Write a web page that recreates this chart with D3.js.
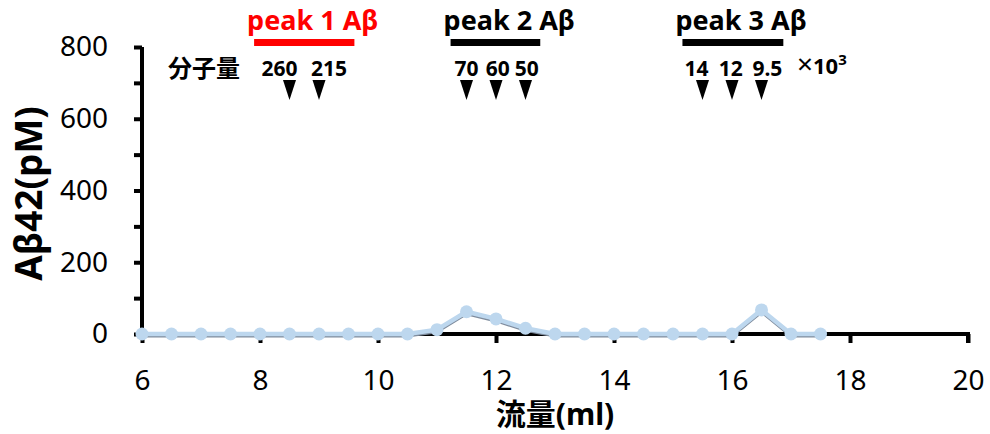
<!DOCTYPE html>
<html>
<head>
<meta charset="utf-8">
<script src="https://cdn.jsdelivr.net/npm/d3@7"></script>
<style>
  body { margin: 0; background: #fff; }
  svg { font-family: "Noto Sans", "Noto Sans CJK JP", sans-serif; }
</style>
</head>
<body>
<svg id="chart" width="990" height="434"></svg>
<script>
// flow volume (ml) and measured Aβ42 (pM)
const volumes = [6, 6.5, 7, 7.5, 8, 8.5, 9, 9.5, 10, 10.5, 11, 11.5, 12, 12.5, 13, 13.5, 14, 14.5, 15, 15.5, 16, 16.5, 17, 17.5];
const abeta42 = [0, 0, 0, 0, 0, 0, 0, 0, 0, 0, 12, 62, 42, 16, 0, 0, 0, 0, 0, 0, 0, 67, 0, 0];

const xTicks = [6, 8, 10, 12, 14, 16, 18, 20];
const yTicks = [0, 100, 200, 300, 400, 500, 600, 700, 800];

// peak fractions bars (ml)
const peakNames = ["peak 1 Aβ", "peak 2 Aβ", "peak 3 Aβ"];
const peakColors = ["#ff0000", "#000000", "#000000"];
const peakFrom = [7.9, 11.23, 15.16];
const peakTo = [9.6, 12.75, 16.87];

// molecular weight markers (×10^3)
const markerPos = [8.5, 9, 11.5, 12, 12.5, 15.5, 16, 16.5];
const markerLabels = ["260", "215", "70", "60", "50", "14", "12", "9.5"];
const markerLabelPos = [8.33, 9.17, 11.5, 12.03, 12.52, 15.4, 15.98, 16.6];

const svg = d3.select("#chart");
const x = d3.scaleLinear().domain([6, 20]).range([142, 968]);
const y = d3.scaleLinear().domain([0, 800]).range([334, 47]);

// axes
const yAxis = svg.append("g")
  .attr("transform", `translate(${x(6)},0)`)
  .call(d3.axisLeft(y).tickValues(yTicks).tickSize(8).tickPadding(26)
    .tickFormat(d => d % 200 === 0 ? d : ""));
const xAxis = svg.append("g")
  .attr("transform", `translate(0,${y(0)})`)
  .call(d3.axisBottom(x).tickValues(xTicks).tickSize(9).tickPadding(27));

[xAxis, yAxis].forEach(a => {
  a.select(".domain").attr("stroke", "#000").attr("stroke-width", 4);
  a.selectAll(".tick line").attr("stroke", "#000").attr("stroke-width", 4);
  a.selectAll(".tick text").attr("fill", "#000")
    .style("font-family", "'Noto Sans', sans-serif").style("font-size", "28px");
});
yAxis.select(".domain").attr("d", `M-0,${y(800)}H0V${y(0) + 2}`);
xAxis.select(".domain").attr("d", `M${x(6)},0H${x(20)}V9`);

// axis titles
svg.append("text")
  .attr("transform", `translate(42,${(y(0) + y(800)) / 2 + 3}) rotate(-90)`)
  .attr("text-anchor", "middle")
  .style("font-size", "37px").style("font-weight", "bold")
  .text("Aβ42(pM)");

svg.append("text")
  .attr("x", (x(6) + x(20)) / 2).attr("y", 425)
  .attr("text-anchor", "middle")
  .style("font-size", "30px").style("font-weight", "bold")
  .text("流量(ml)");

// data line with a soft gray shadow
const data = volumes.map((v, i) => ({ v, a: abeta42[i] }));
const line = d3.line().x(d => x(d.v)).y(d => y(d.a));

svg.append("path").datum(data)
  .attr("fill", "none").attr("stroke", "#7f8c9d").attr("stroke-width", 3)
  .attr("transform", "translate(0,2)")
  .attr("d", line);
svg.append("path").datum(data)
  .attr("fill", "none").attr("stroke", "#bdd7ee").attr("stroke-width", 4.5)
  .attr("d", line);
svg.selectAll(".pt").data(data).join("circle")
  .attr("class", "pt")
  .attr("cx", d => x(d.v)).attr("cy", d => y(d.a))
  .attr("r", 6.5).attr("fill", "#bdd7ee");

// peak annotations
peakNames.forEach((name, i) => {
  svg.append("rect")
    .attr("x", x(peakFrom[i])).attr("y", 39)
    .attr("width", x(peakTo[i]) - x(peakFrom[i])).attr("height", 7)
    .attr("fill", peakColors[i]);
  svg.append("text")
    .attr("x", x(peakFrom[i]) - 7).attr("y", 30)
    .attr("fill", peakColors[i])
    .style("font-size", "27px").style("font-weight", "bold")
    .text(name);
});

svg.append("text")
  .attr("x", 168).attr("y", 77)
  .style("font-size", "24px").style("font-weight", "bold")
  .style("font-family", "'Noto Sans CJK JP', sans-serif")
  .text("分子量");

svg.selectAll(".mw").data(markerLabels).join("text")
  .attr("class", "mw")
  .attr("x", (d, i) => x(markerLabelPos[i])).attr("y", 76)
  .attr("text-anchor", "middle")
  .style("font-size", "21px").style("font-weight", "bold")
  .text(d => d);

svg.selectAll(".tri").data(markerPos).join("path")
  .attr("class", "tri")
  .attr("d", d => `M${x(d) - 6.5},80L${x(d) + 6.5},80L${x(d)},100Z`)
  .attr("fill", "#000");

const unit = svg.append("text")
  .attr("x", 797).attr("y", 74)
  .style("font-size", "22px").style("font-weight", "bold");
unit.append("tspan").style("font-size", "28px").style("font-weight", "normal").text("×");
unit.append("tspan").text("10");
unit.append("tspan").attr("dy", -9).style("font-size", "15px").text("3");
</script>
</body>
</html>
